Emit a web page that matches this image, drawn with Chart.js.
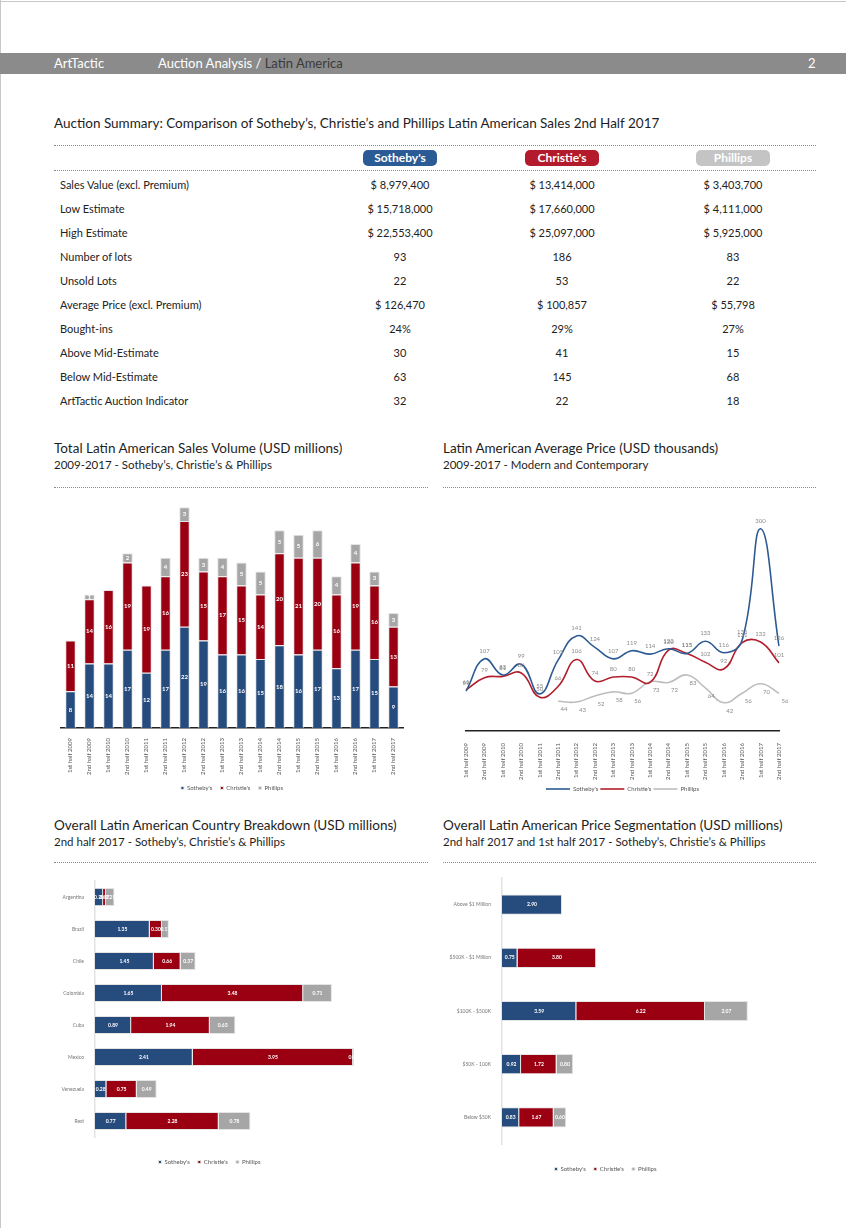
<!DOCTYPE html>
<html>
<head>
<meta charset="utf-8">
<script src="https://cdn.jsdelivr.net/npm/chart.js@4.4.0/dist/chart.umd.min.js"></script>
<style>
  body { margin:0; width:846px; height:1228px; background:#fff; font-family:Lato, "Open Sans", sans-serif; position:relative; overflow:hidden; }
  .abs { position:absolute; }
  .edge-top { left:0; top:1px; width:846px; height:1px; background:#c8c8c8; }
  .edge-left { left:0; top:0; width:1px; height:1228px; background:#c8c8c8; }
  .header { left:0; top:53px; width:846px; height:21px; background:#8b8b8b; color:#fff; font-size:13px; line-height:21px; }
  .title { font-size:13.5px; color:#1e1e1e; white-space:nowrap; }
  .sub { font-size:11.5px; color:#1e1e1e; white-space:nowrap; }
  .dots { height:0; border-top:1px dotted #8a8a8a; }
  .pill { width:74px; height:16px; line-height:16px; border-radius:5px; color:#fff; font-weight:bold; font-size:12px; text-align:center; }
  .cell { font-size:11px; color:#222; line-height:24px; white-space:nowrap; }
  .val { width:140px; text-align:center; }
  .box { position:absolute; }
</style>
</head>
<body>
<div class="abs edge-top"></div>
<div class="abs edge-left"></div>
<div class="abs header">
  <span class="abs" style="left:54px">ArtTactic</span>
  <span class="abs" style="left:158px">Auction Analysis / <span style="color:#3a3a3a">Latin America</span></span>
  <span class="abs" style="left:808px">2</span>
</div>

<div class="abs title" style="left:54px; top:115px">Auction Summary: Comparison of Sotheby’s, Christie’s and Phillips Latin American Sales 2nd Half 2017</div>
<div class="abs dots" style="left:54px; top:145px; width:762px"></div>
<div class="abs pill" style="left:363px; top:150px; background:#2b5b94">Sotheby's</div>
<div class="abs pill" style="left:525px; top:150px; background:#b31b2c">Christie's</div>
<div class="abs pill" style="left:696px; top:150px; background:#c4c4c4">Phillips</div>
<div class="abs dots" style="left:54px; top:170px; width:762px"></div>
<div id="table"></div>

<div class="abs title" style="left:54px; top:440px">Total Latin American Sales Volume (USD millions)</div>
<div class="abs sub" style="left:54px; top:458px">2009-2017 - Sotheby’s, Christie’s &amp; Phillips</div>
<div class="abs dots" style="left:54px; top:487px; width:374px"></div>
<div class="abs title" style="left:443px; top:440px">Latin American Average Price (USD thousands)</div>
<div class="abs sub" style="left:443px; top:458px">2009-2017 - Modern and Contemporary</div>
<div class="abs dots" style="left:443px; top:487px; width:373px"></div>

<div class="abs title" style="left:54px; top:817px">Overall Latin American Country Breakdown (USD millions)</div>
<div class="abs sub" style="left:54px; top:835px">2nd half 2017 - Sotheby’s, Christie’s &amp; Phillips</div>
<div class="abs dots" style="left:54px; top:862px; width:374px"></div>
<div class="abs title" style="left:443px; top:817px">Overall Latin American Price Segmentation (USD millions)</div>
<div class="abs sub" style="left:443px; top:835px">2nd half 2017 and 1st half 2017 - Sotheby’s, Christie’s &amp; Phillips</div>
<div class="abs dots" style="left:443px; top:862px; width:373px"></div>

<div class="box" style="left:50px; top:495px; width:370px; height:306px"><canvas id="salesChart"></canvas></div>
<div class="box" style="left:440px; top:490px; width:370px; height:312px"><canvas id="avgChart"></canvas></div>
<div class="box" style="left:40px; top:870px; width:388px; height:305px"><canvas id="countryChart"></canvas></div>
<div class="box" style="left:440px; top:870px; width:368px; height:312px"><canvas id="segChart"></canvas></div>

<script>
// summary table
var tableRows = ["Sales Value (excl. Premium)", "Low Estimate", "High Estimate", "Number of lots", "Unsold Lots",
  "Average Price (excl. Premium)", "Bought-ins", "Above Mid-Estimate", "Below Mid-Estimate", "ArtTactic Auction Indicator"];
var tableSothebys = ["$ 8,979,400", "$ 15,718,000", "$ 22,553,400", "93", "22", "$ 126,470", "24%", "30", "63", "32"];
var tableChristies = ["$ 13,414,000", "$ 17,660,000", "$ 25,097,000", "186", "53", "$ 100,857", "29%", "41", "145", "22"];
var tablePhillips = ["$ 3,403,700", "$ 4,111,000", "$ 5,925,000", "83", "22", "$ 55,798", "27%", "15", "68", "18"];

// sales volume, USD millions
var halves = ["1st half 2009", "2nd half 2009", "1st half 2010", "2nd half 2010", "1st half 2011", "2nd half 2011",
  "1st half 2012", "2nd half 2012", "1st half 2013", "2nd half 2013", "1st half 2014", "2nd half 2014",
  "1st half 2015", "2nd half 2015", "1st half 2016", "2nd half 2016", "1st half 2017", "2nd half 2017"];
var salesSothebys = [8, 14, 14, 17, 12, 17, 22, 19, 16, 16, 15, 18, 16, 17, 13, 17, 15, 9];
var salesChristies = [11, 14, 16, 19, 19, 16, 23, 15, 17, 15, 14, 20, 21, 20, 16, 19, 16, 13];
var salesPhillips = [0, 1, 0, 2, 0, 4, 3, 3, 4, 5, 5, 5, 5, 6, 4, 4, 3, 3];

// average price, USD thousands
var avgSothebys = [59, 107, 83, 99, 55, 105, 141, 124, 107, 119, 114, 122, 115, 133, 116, 135, 300, 126];
var avgChristies = [61, 79, 81, 86, 50, 66, 106, 74, 80, 80, 72, 120, 115, 102, 92, 131, 132, 101];
var avgPhillips = [null, null, null, null, null, 44, 43, 52, 58, 56, 73, 72, 83, 64, 42, 56, 70, 56];

// country breakdown, USD millions
var countries = ["Argentina", "Brazil", "Chile", "Colombia", "Cuba", "Mexico", "Venezuela", "Rest"];
var countrySothebys = [0.20, 1.35, 1.45, 1.65, 0.89, 2.41, 0.28, 0.77];
var countryChristies = [0.07, 0.30, 0.66, 3.48, 1.94, 3.95, 0.75, 2.28];
var countryPhillips = [0.21, 0.17, 0.37, 0.71, 0.63, 0.02, 0.49, 0.78];

// price segmentation, USD millions
var segments = ["Above $1 Million", "$500K - $1 Million", "$100K - $500K", "$50K - 100K", "Below $50K"];
var segSothebys = [2.90, 0.75, 3.59, 0.92, 0.83];
var segChristies = [0, 3.80, 6.22, 1.72, 1.67];
var segPhillips = [0, 0, 2.07, 0.80, 0.60];

var html = "";
for (var i = 0; i < tableRows.length; i++) {
  var rowTop = 173 + 24 * i;
  html += '<div class="abs cell" style="left:60px;top:' + rowTop + 'px">' + tableRows[i] + '</div>';
  html += '<div class="abs cell val" style="left:330px;top:' + rowTop + 'px">' + tableSothebys[i] + '</div>';
  html += '<div class="abs cell val" style="left:492px;top:' + rowTop + 'px">' + tableChristies[i] + '</div>';
  html += '<div class="abs cell val" style="left:663px;top:' + rowTop + 'px">' + tablePhillips[i] + '</div>';
}
document.getElementById("table").innerHTML = html;

Chart.defaults.font.family = "Lato";
Chart.defaults.animation = false;

var blue = "#264b7d", red = "#9a0012", grey = "#a6a6a6";

// draws the value of each bar / point
var valueLabels = {
  id: "valueLabels",
  afterDatasetsDraw: function (chart, args, opts) {
    var ctx = chart.ctx;
    ctx.save();
    ctx.font = (opts.bold ? "bold " : "") + (opts.size || 6) + "px Lato";
    ctx.textAlign = "center";
    ctx.textBaseline = "middle";
    chart.data.datasets.forEach(function (ds, i) {
      var meta = chart.getDatasetMeta(i);
      meta.data.forEach(function (el, j) {
        var v = ds.data[j];
        if (v === null || v === 0) return;
        var txt = opts.decimals ? v.toFixed(opts.decimals) : String(v);
        if (opts.mode === "line") {
          ctx.fillStyle = "#8c8c8c";
          var dy = ds.label === "Phillips" ? 8 : -8;
          ctx.fillText(txt, el.x + (ds.label === "Phillips" ? 6 : 0), el.y + dy);
        } else {
          var c = el.getCenterPoint();
          ctx.fillStyle = "#fff";
          ctx.fillText(txt, c.x, c.y);
        }
      });
    });
    ctx.restore();
  }
};

var smallLegend = {
  position: "bottom",
  labels: { usePointStyle: true, pointStyle: "rect", boxWidth: 3, boxHeight: 3, font: { size: 6 }, color: "#555", padding: 8 }
};

new Chart(document.getElementById("salesChart"), {
  type: "bar",
  data: {
    labels: halves,
    datasets: [
      { label: "Sotheby's", data: salesSothebys, backgroundColor: blue, borderColor: "#e4e4e4", borderWidth: 1 },
      { label: "Christie's", data: salesChristies, backgroundColor: red, borderColor: "#e4e4e4", borderWidth: 1 },
      { label: "Phillips", data: salesPhillips, backgroundColor: grey, borderColor: "#e4e4e4", borderWidth: 1 }
    ]
  },
  options: {
    responsive: true, maintainAspectRatio: false,
    categoryPercentage: 0.6, barPercentage: 0.92,
    layout: { padding: { left: 11, right: 17, top: 3 } },
    plugins: { legend: smallLegend, tooltip: { enabled: false }, valueLabels: { bold: true, size: 6 } },
    scales: {
      x: { stacked: true, grid: { display: false }, border: { color: "#222", width: 1.5 },
           ticks: { minRotation: 90, maxRotation: 90, font: { size: 6 }, color: "#555", padding: 2 } },
      y: { stacked: true, display: false, min: 0, max: 50 }
    }
  },
  plugins: [valueLabels]
});

new Chart(document.getElementById("avgChart"), {
  type: "line",
  data: {
    labels: halves,
    datasets: [
      { label: "Sotheby's", data: avgSothebys, borderColor: "#2d5a92", backgroundColor: "#2d5a92", borderWidth: 1.6, tension: 0.45, pointRadius: 0, pointStyle: "line" },
      { label: "Christie's", data: avgChristies, borderColor: "#b21e2c", backgroundColor: "#b21e2c", borderWidth: 1.6, tension: 0.45, pointRadius: 0, pointStyle: "line" },
      { label: "Phillips", data: avgPhillips, borderColor: "#bdbdbd", backgroundColor: "#bdbdbd", borderWidth: 1.6, tension: 0.45, pointRadius: 0, pointStyle: "line" }
    ]
  },
  options: {
    responsive: true, maintainAspectRatio: false,
    layout: { padding: { left: 26, right: 31, top: 5 } },
    plugins: {
      legend: { position: "bottom", labels: { usePointStyle: true, pointStyleWidth: 24, font: { size: 6 }, color: "#555", padding: 2 } },
      tooltip: { enabled: false },
      valueLabels: { mode: "line", size: 6 }
    },
    scales: {
      x: { grid: { display: false }, border: { color: "#222", width: 1.5 },
           ticks: { minRotation: 90, maxRotation: 90, font: { size: 6 }, color: "#555", padding: 4 } },
      y: { display: false, min: 0, max: 350 }
    }
  },
  plugins: [valueLabels]
});

function hbar(id, cats, s, c, p, xmax, yWidth, padRight, padTop, thick) {
  return new Chart(document.getElementById(id), {
    type: "bar",
    data: {
      labels: cats,
      datasets: [
        { label: "Sotheby's", data: s, backgroundColor: blue, borderColor: "#e4e4e4", borderWidth: 1 },
        { label: "Christie's", data: c, backgroundColor: red, borderColor: "#e4e4e4", borderWidth: 1 },
        { label: "Phillips", data: p, backgroundColor: grey, borderColor: "#e4e4e4", borderWidth: 1 }
      ]
    },
    options: {
      indexAxis: "y",
      responsive: true, maintainAspectRatio: false,
      categoryPercentage: thick, barPercentage: 1,
      layout: { padding: { right: padRight, top: padTop } },
      plugins: { legend: smallLegend, tooltip: { enabled: false }, valueLabels: { decimals: 2, size: 5, bold: true } },
      scales: {
        x: { stacked: true, min: 0, max: xmax, grid: { display: false }, border: { display: false },
             ticks: { display: false }, afterFit: function (sc) { sc.height = 14; } },
        y: { stacked: true, grid: { display: false }, border: { color: "#e2e2e2", width: 1.5 },
             ticks: { font: { size: 5 }, color: "#777", padding: 3 },
             afterFit: function (sc) { sc.width = yWidth; } }
      }
    },
    plugins: [valueLabels]
  });
}

hbar("countryChart", countries, countrySothebys, countryChristies, countryPhillips, 7, 55, 49, 11, 0.57);
hbar("segChart", segments, segSothebys, segChristies, segPhillips, 13, 62, 37, 8, 0.38);
</script>
</body>
</html>
